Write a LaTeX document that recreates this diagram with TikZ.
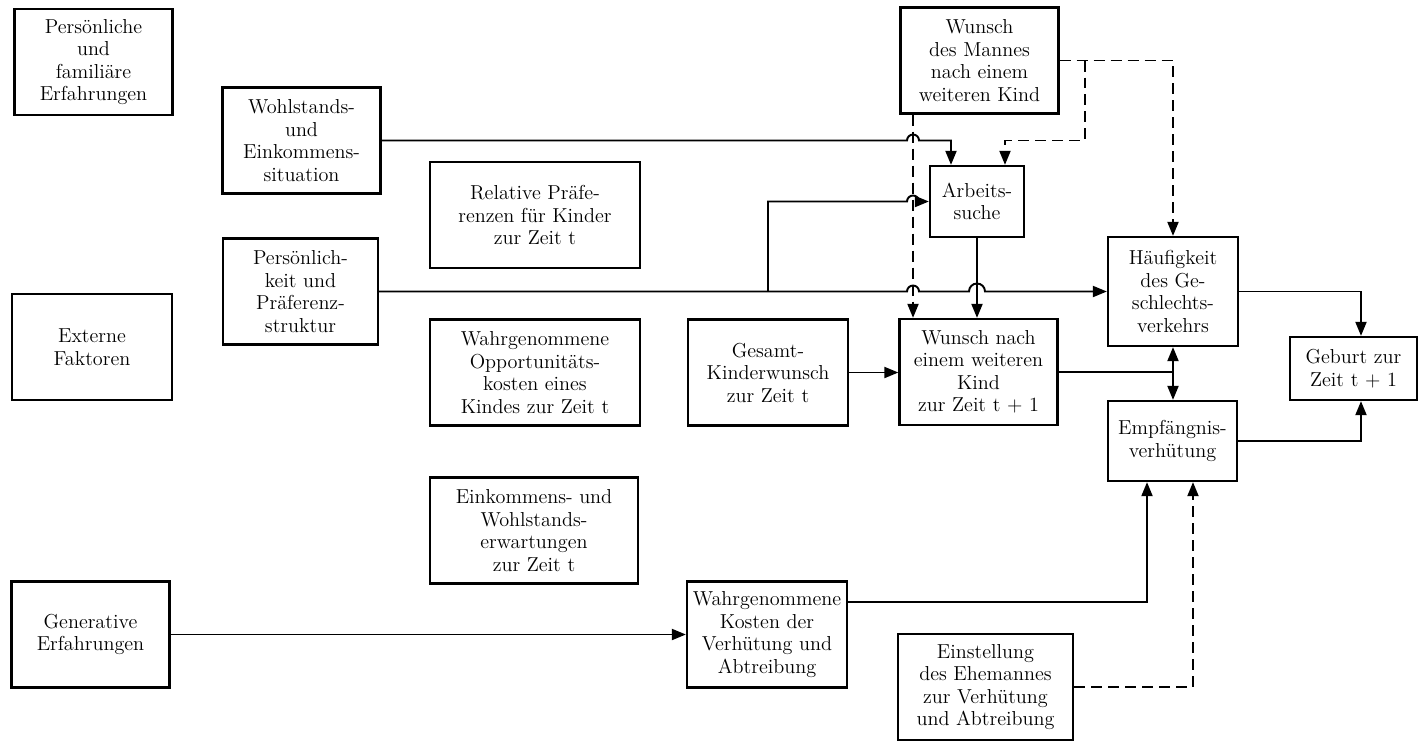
\documentclass[tikz,border=0pt]{standalone}
\usetikzlibrary{arrows.meta,calc}

\tikzset{
	box/.style={draw, line width=1.3pt, align=center, inner sep=1pt,
		minimum width=3.16cm, minimum height=2.12cm,
		font=\fontsize{11.5}{12.8}\selectfont},
	link/.style={line width=1.1pt},
	arr/.style={link, -{Triangle[length=2.8mm,width=2.2mm]}},
	dashlink/.style={dash pattern=on 2.2mm off 1.2mm},
}

\begin{document}
\begin{tikzpicture}[x=0.02cm, y=-0.02cm]
	\useasboundingbox (0,0) rectangle (1421,741);
	% linke Spalten
	\node[box] (pers) at (93.5,62) {Persönliche\\und\\familiäre\\Erfahrungen};
	\node[box] (wohl) at (301.5,140.5) {Wohlstands-\\und\\Einkommens-\\situation};
	\node[box, minimum width=3.1cm] (prst) at (300.5,291.5) {Persönlich-\\keit und\\Präferenz-\\struktur};
	\node[box, minimum width=3.2cm] (extf) at (92,347) {Externe\\Faktoren};
	\node[box] (gene) at (90.5,634.5) {Generative\\Erfahrungen};
	\node[box, minimum width=4.2cm] (relp) at (535,215) {Relative Präfe-\\renzen für Kinder\\zur Zeit t};
	\node[box, minimum width=4.2cm] (oppk) at (535,372.5) {Wahrgenommene\\Opportunitäts-\\kosten eines\\Kindes zur Zeit t};
	\node[box, minimum width=4.16cm] (erwt) at (534,530.5) {Einkommens- und\\Wohlstands-\\erwartungen\\zur Zeit t};
	% mittlere und rechte Spalten
	\node[box, minimum width=3.2cm] (gesk) at (768,372.5) {Gesamt-\\Kinderwunsch\\zur Zeit t};
	\node[box, minimum width=3.2cm] (kost) at (767,634.5) {Wahrgenommene\\Kosten der\\Verhütung und\\Abtreibung};
	\node[box] (mann) at (979.5,60.5) {Wunsch\\des Mannes\\nach einem\\weiteren Kind};
	\node[box, minimum width=1.88cm, minimum height=1.42cm] (arbs) at (977,201.5) {Arbeits-\\suche};
	\node[box] (wkin) at (978.5,372) {Wunsch nach\\einem weiteren\\Kind\\zur Zeit t + 1};
	\node[box, minimum width=3.5cm] (einm) at (985.5,687) {Einstellung\\des Ehemannes\\zur Verhütung\\und Abtreibung};
	\node[box, minimum width=2.6cm, minimum height=2.18cm] (hgv) at (1173,291.5) {Häufigkeit\\des Ge-\\schlechts-\\verkehrs};
	\node[box, minimum width=2.58cm, minimum height=1.6cm] (empf) at (1172.5,441) {Empfängnis-\\verhütung};
	\node[box, minimum width=2.54cm, minimum height=1.26cm] (gebt) at (1353.5,368.5) {Geburt zur\\Zeit t + 1};

	\coordinate (dv) at ($(mann.south)+(-1.33cm,0)$);
	\coordinate (ain) at ($(arbs.north)+(-0.52cm,0)$);
	\coordinate (aim) at ($(arbs.north)+(0.56cm,0)$);
	\coordinate (mb) at ($(mann.east)+(0.5cm,0)$);
	\coordinate (wj) at (wkin.east -| hgv.south);

	% durchgezogene Pfeile
	\draw[arr] (wohl.east) -- ($(wohl.east -| dv)+(-0.12cm,0)$) arc[start angle=180, end angle=0, radius=0.12cm]
		-- (wohl.east -| ain) -- (ain);
	\draw[arr] (prst.east) -- ($(prst.east -| dv)+(-0.12cm,0)$) arc[start angle=180, end angle=0, radius=0.12cm]
		-- ($(prst.east -| arbs.south)+(-0.16cm,0)$) arc[start angle=180, end angle=0, radius=0.16cm] -- (hgv.west);
	\draw[arr] (prst.east -| gesk.north) -- (arbs.west -| gesk.north)
		-- ($(arbs.west -| dv)+(-0.12cm,0)$) arc[start angle=180, end angle=0, radius=0.12cm] -- (arbs.west);
	\draw[arr] (arbs.south) -- (arbs.south |- wkin.north);
	\draw[arr] (gesk.east) -- (wkin.west |- gesk.east);
	\draw[link] (wkin.east) -- (wj);
	\draw[arr] (wj) -- (hgv.south);
	\draw[arr] (wj) -- (wj |- empf.north);
	\draw[arr] (hgv.east) -| ($(gebt.north)+(0.15cm,0)$);
	\draw[arr] (empf.east) -| ($(gebt.south)+(0.15cm,0)$);
	\draw[arr] (gene.east) -- (kost.west);
	\draw[arr] ($(kost.east)+(0,0.65cm)$) -| ($(empf.south)+(-0.51cm,0)$);

	% gestrichelte Pfeile
	\draw[arr, dashlink] (dv) -- (dv |- wkin.north);
	\draw[arr, dashlink] (mann.east) -| (hgv.north);
	\draw[arr, dashlink] (mb) |- (aim |- wohl.east) -- (aim);
	\draw[arr, dashlink] (einm.east) -| ($(empf.south)+(0.41cm,0)$);
\end{tikzpicture}
\end{document}
